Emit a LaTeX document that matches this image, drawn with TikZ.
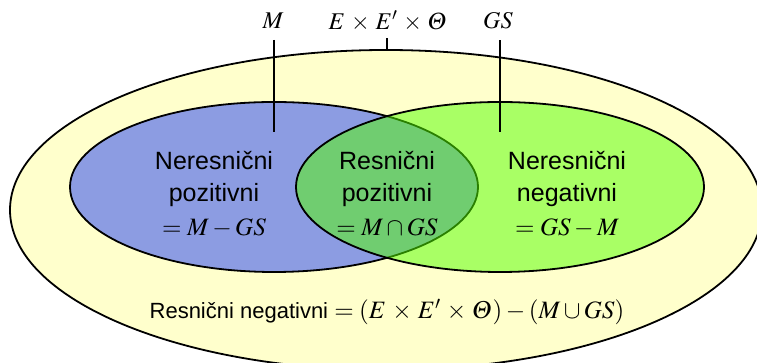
\documentclass[tikz,border=0pt]{standalone}
\usepackage{mathptmx}
\usepackage[no-math]{fontspec}
\setmainfont{Liberation Sans}
\DeclareMathSymbol{\itTheta}{\mathord}{letters}{"02}
\definecolor{univyellow}{RGB}{255,255,204}
\definecolor{setblue}{RGB}{140,156,226}
\definecolor{setgreen}{RGB}{85,255,0}
\begin{document}
\begin{tikzpicture}[x=1pt,y=1pt,
  set/.style={draw=black,line width=1.8pt},
  region/.style={align=center,inner sep=0pt,font=\fontsize{25}{32}\selectfont},
  lbl/.style={inner sep=0pt,font=\fontsize{24}{28}\selectfont},
  con/.style={line width=1.8pt}]
\useasboundingbox (0,0) rectangle (757,363);
\clip (0,0) rectangle (757,363);
\draw[set,fill=univyellow] (386,153) ellipse [x radius=376,y radius=160];
\draw[set,fill=setblue] (274,176) ellipse [x radius=204,y radius=85];
\draw[set,fill=setgreen,fill opacity=0.5] (500,176) ellipse [x radius=204,y radius=85];
\node[lbl] (m) at (273,342) {$M$};
\node[lbl] (u) at (388,342) {$E\mathbin{\,\times\,}E'\mathbin{\,\times\,}\itTheta$};
\node[lbl] (gs) at (498,342) {$GS$};
\coordinate (mend) at (274,231);
\coordinate (uend) at (387,313);
\coordinate (gsend) at (500,231);
\draw[con,shorten <=11pt] (m.south -| mend) -- (mend);
\draw[con,shorten <=7pt] (u.south -| uend) -- (uend);
\draw[con,shorten <=11pt] (gs.south -| gsend) -- (gsend);
\node[region] (fp) at (214,169) {Neresnični\\pozitivni\\[2pt]$=M-GS$};
\node[region] (tp) at (387,169) {Resnični\\pozitivni\\[2pt]$=M\cap GS$};
\node[region] (fn) at (567,169) {Neresnični\\negativni\\[2pt]$=GS-M$};
\node[inner sep=0pt,font=\fontsize{22}{26}\selectfont] (tn) at (387,51)
  {Resnični negativni {\fontsize{25}{28}\selectfont$=(E\mathbin{\,\times\,}E'\mathbin{\,\times\,}\itTheta)-(M\cup GS)$}};
\end{tikzpicture}
\end{document}
